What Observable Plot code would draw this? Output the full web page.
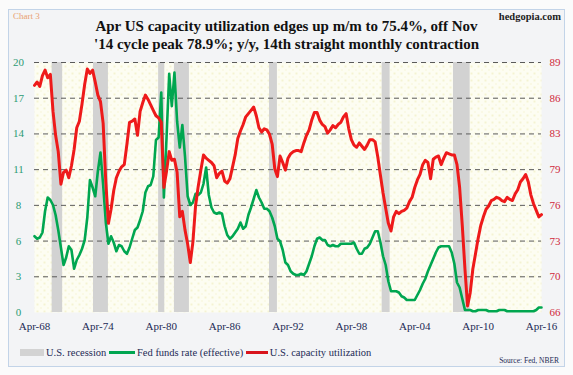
<!DOCTYPE html>
<html><head><meta charset="utf-8">
<script src="https://cdn.jsdelivr.net/npm/d3@7"></script>
<script src="https://cdn.jsdelivr.net/npm/@observablehq/plot@0.6"></script>
<style>
body{margin:0;background:#fbfbfb;}
#wrap{position:relative;width:573px;height:375px;background:#fbfbfb;font-family:"Liberation Serif","DejaVu Serif",serif;overflow:hidden;}
#frame{position:absolute;left:8px;top:9px;width:557px;height:358px;border:1px solid #c3d4e8;box-sizing:border-box;background:#f3f4f6;}
#chartno{position:absolute;left:13px;top:11px;font-size:9px;color:#e9a06e;}
#site{position:absolute;right:12px;top:11px;font-size:10.5px;font-weight:bold;color:#222;}
#title{position:absolute;left:0;width:573px;top:17px;text-align:center;font-size:15px;font-weight:bold;line-height:18px;color:#111;}
#chart{position:absolute;left:0;top:50px;}
#legend{position:absolute;left:20px;top:347px;font-size:10.5px;color:#1d2a55;display:flex;align-items:center;white-space:nowrap;}
#legend .sw{display:inline-block;margin-right:2px;}
#source{position:absolute;right:14px;top:356px;font-size:7.5px;color:#1d2a55;}
</style></head>
<body><div id="wrap">
<div id="frame"></div>
<div id="chartno">Chart 3</div>
<div id="site">hedgopia.com</div>
<div id="title">Apr US capacity utilization edges up m/m to 75.4%, off Nov<br>'14 cycle peak 78.9%; y/y, 14th straight monthly contraction</div>
<div id="chart"></div>
<div id="legend">
<span class="sw" style="width:24px;height:7px;background:#d3d3d3;"></span><span>U.S. recession&nbsp;</span>
<span class="sw" style="width:26px;height:3px;background:#00a650;"></span><span>Fed funds rate (effective)&nbsp;</span>
<span class="sw" style="width:22px;height:3px;background:#d8141c;"></span><span>U.S. capacity utilization</span>
</div>
<div id="source">Source: Fed, NBER</div>
</div>
<script>
// Quarterly values starting Apr 1968 (Apr, Jul, Oct, Jan ...)
const capUtil = [
 86.9,87.2,86.8,
 87.8,88.3,87.6,87.9,
 84.5,82.3,80.8,77.8,
 78.9,79.1,78.4,79.5,
 81.0,83.0,83.6,85.2,
 87.0,88.4,88.0,88.3,
 87.2,86.0,85.4,83.4,
 78.0,74.2,75.5,77.2,
 78.4,79.0,79.4,79.6,
 81.5,83.5,83.6,83.8,
 82.3,84.5,85.3,86.0,
 85.6,85.1,84.6,84.1,
 83.9,83.5,77.5,79.0,
 80.8,80.0,80.1,78.9,
 74.8,75.3,73.6,72.3,
 70.6,72.5,75.8,77.6,
 79.1,80.5,80.2,80.0,
 79.8,79.5,78.4,78.8,
 79.0,78.1,77.9,78.3,
 79.4,80.5,82.0,82.7,
 83.3,84.0,84.3,84.6,
 84.9,84.1,83.0,82.6,
 82.9,82.8,82.4,81.5,
 79.2,78.5,80.4,79.8,
 79.1,80.2,80.6,80.8,
 80.9,80.9,80.8,81.6,
 82.3,82.8,83.7,84.4,
 84.4,83.7,83.3,83.1,
 82.5,82.8,83.2,83.0,
 83.3,83.5,84.0,84.3,
 82.9,81.9,81.4,81.2,
 81.6,81.3,81.0,81.4,
 81.9,81.9,81.7,80.3,
 78.6,77.0,75.6,74.2,
 73.5,74.8,75.3,75.1,
 75.3,75.4,75.6,76.2,
 76.6,77.5,78.2,78.7,
 79.6,80.0,79.8,78.3,
 80.1,80.3,80.4,79.6,
 80.2,80.7,80.6,80.5,
 80.5,79.6,77.5,74.0,
 70.0,66.6,67.8,70.0,
 71.4,72.8,74.0,74.8,
 75.5,75.8,76.3,76.4,
 76.6,76.5,76.3,76.2,
 76.6,76.4,76.3,76.9,
 77.3,78.0,78.3,78.7,
 78.0,76.8,76.0,75.4,
 74.8,75.0
];
const fedFunds = [
 6.1,5.9,6.0,
 6.4,8.1,9.2,9.0,
 8.6,7.8,6.6,5.2,
 3.8,4.4,5.3,5.0,
 3.5,4.2,4.6,5.1,
 5.8,7.6,10.6,10.0,
 9.3,11.3,12.8,10.2,
 7.2,5.5,6.1,5.6,
 4.9,5.4,5.3,4.9,
 4.7,5.2,5.9,6.6,
 6.8,7.4,8.1,9.6,
 10.1,10.2,10.9,13.8,
 14.0,17.6,9.2,14.0,
 19.1,16.5,19.2,15.3,
 13.2,15.0,12.5,9.3,
 8.6,8.8,9.5,9.4,
 9.6,10.3,11.6,9.4,
 8.4,8.0,7.9,8.0,
 7.9,6.9,6.2,5.9,
 6.1,6.4,6.7,7.2,
 6.7,6.9,7.8,8.4,
 9.1,9.8,9.2,8.8,
 8.3,8.3,8.1,7.6,
 6.9,5.9,5.7,5.0,
 4.0,3.8,3.3,3.1,
 3.0,3.0,3.1,3.0,
 3.3,3.9,4.5,5.3,
 5.9,6.0,5.8,5.8,
 5.4,5.3,5.4,5.3,
 5.3,5.5,5.5,5.5,
 5.5,5.5,5.6,5.1,
 4.7,4.7,5.1,5.2,
 5.5,6.0,6.5,6.5,
 5.6,4.5,3.8,2.5,
 1.7,1.7,1.7,1.6,
 1.3,1.2,1.0,1.0,
 1.0,1.0,1.4,1.8,
 2.3,2.7,3.3,3.8,
 4.3,4.8,5.2,5.3,
 5.3,5.3,5.3,4.8,
 3.9,2.4,2.0,1.1,
 0.2,0.2,0.2,0.1,
 0.1,0.2,0.2,0.2,
 0.2,0.1,0.1,0.1,
 0.1,0.2,0.2,0.2,
 0.1,0.1,0.1,0.1,
 0.1,0.1,0.1,0.1,
 0.1,0.1,0.1,0.2,
 0.4,0.4
];
const recStart = ["1969-12","1973-11","1980-01","1981-07","1990-07","2001-03","2007-12"];
const recEnd   = ["1970-12","1975-04","1980-08","1982-12","1991-04","2001-12","2009-07"];
const leftLabels  = ["0","3","6","8","11","14","17","20"];
const rightLabels = ["66","70","73","76","79","83","86","89"];
const xYears  = [1968,1974,1980,1986,1992,1998,2004,2010,2016];
const xLabels = ["Apr-68","Apr-74","Apr-80","Apr-86","Apr-92","Apr-98","Apr-04","Apr-10","Apr-16"];

const qDate = i => new Date(Date.UTC(1968, 3 + 3 * i, 1));
const cu = capUtil.map((v, i) => ({date: qDate(i), v}));
const ff = fedFunds.map((v, i) => ({date: qDate(i), v}));
const rec = recStart.map((s, i) => ({start: new Date(s + "-01T00:00Z"), end: new Date(recEnd[i] + "-01T00:00Z")}));

const LMAX = 20, RMIN = 66, RMAX = 89;
const toLeft = v => (v - RMIN) / (RMAX - RMIN) * LMAX;
const yTicks = leftLabels.map((_, i) => i * LMAX / (leftLabels.length - 1));
const lMap = new Map(yTicks.map((t, i) => [t, leftLabels[i]]));
const rMap = new Map(yTicks.map((t, i) => [t, rightLabels[i]]));
const xTicks = xYears.map(y => new Date(Date.UTC(y, 3, 1)));
const xMap = new Map(xYears.map((y, i) => [y, xLabels[i]]));

const chart = Plot.plot({
  width: 573, height: 292, marginLeft: 34, marginRight: 32, marginTop: 12, marginBottom: 30,
  style: {background: "transparent", fontFamily: "Liberation Serif, DejaVu Serif, serif", fontSize: "11px", overflow: "visible"},
  x: {type: "utc", domain: [new Date(Date.UTC(1968, 3, 1)), new Date(Date.UTC(2016, 3, 1))], label: null},
  y: {domain: [0, LMAX], label: null},
  marks: [
    Plot.frame({fill: "url(#dots)", stroke: "none"}),
    Plot.rect(rec, {x1: "start", x2: "end", y1: 0, y2: LMAX, fill: "#d2d2d2"}),
    Plot.ruleY(yTicks.slice(1), {stroke: "#5a5a5a", strokeDasharray: "5,4", strokeWidth: 1}),
    Plot.line(ff, {x: "date", y: "v", stroke: "#00a650", strokeWidth: 2.6}),
    Plot.line(cu, {x: "date", y: d => toLeft(d.v), stroke: "#ee1a1a", strokeWidth: 3}),
    Plot.axisY(yTicks, {anchor: "left", tickSize: 0, tickPadding: 11, textAnchor: "middle", dx: -5, tickFormat: d => lMap.get(d), fill: "#2b9b74"}),
    Plot.axisY(yTicks, {anchor: "right", tickSize: 0, tickPadding: 8, tickFormat: d => rMap.get(d), fill: "#d0283a"}),
    Plot.axisX(xTicks, {tickSize: 0, tickPadding: 10, tickFormat: d => xMap.get(d.getUTCFullYear()), fill: "#1d2a55"})
  ]
});
const defs = document.createElementNS("http://www.w3.org/2000/svg", "defs");
defs.innerHTML = '<pattern id="dots" width="7" height="7" patternUnits="userSpaceOnUse"><rect width="7" height="7" fill="#fdfdf2"/><circle cx="2" cy="2" r="0.7" fill="#e6e29a"/><circle cx="5.5" cy="5.5" r="0.6" fill="#efeab8"/></pattern>';
chart.insertBefore(defs, chart.firstChild);
document.getElementById("chart").appendChild(chart);
</script>
</body></html>
